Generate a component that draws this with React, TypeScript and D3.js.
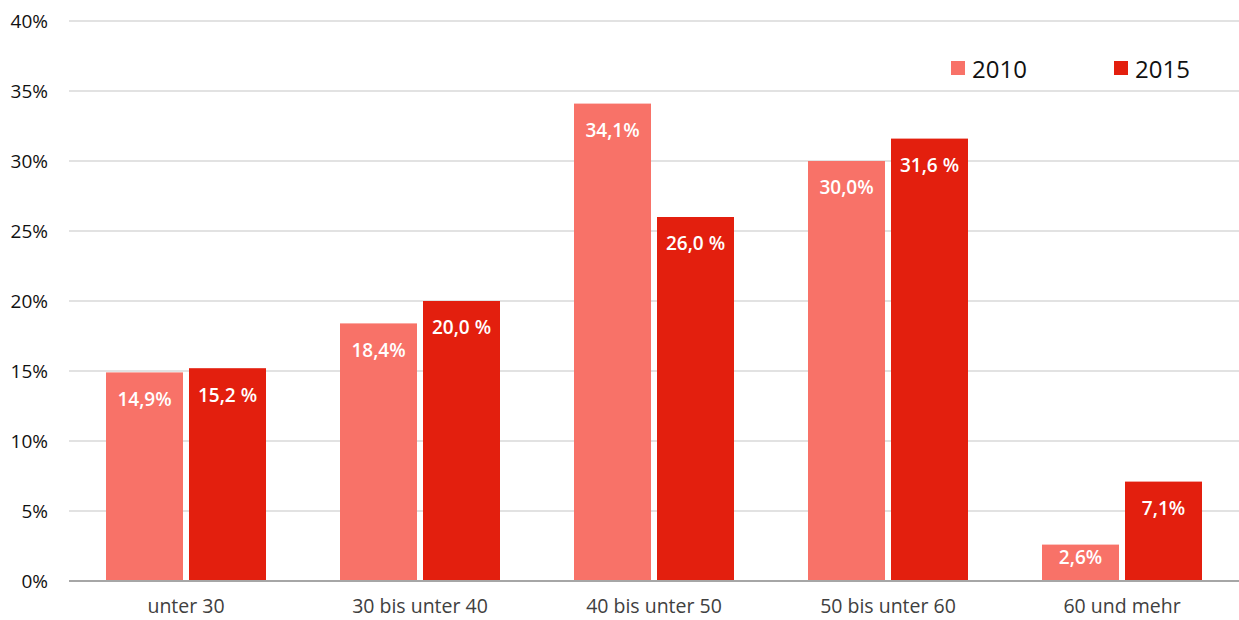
import React from "react";
import * as d3 from "d3";

const categories = ["unter 30", "30 bis unter 40", "40 bis unter 50", "50 bis unter 60", "60 und mehr"];
const seriesNames = ["2010", "2015"];
const values2010 = [14.9, 18.4, 34.1, 30.0, 2.6];
const values2015 = [15.2, 20.0, 26.0, 31.6, 7.1];
const labels2010 = ["14,9%", "18,4%", "34,1%", "30,0%", "2,6%"];
const labels2015 = ["15,2 %", "20,0 %", "26,0 %", "31,6 %", "7,1%"];
const yTicks = [0, 5, 10, 15, 20, 25, 30, 35, 40];
const colors = ["#F87268", "#E31F0E"];

const W = 1239, H = 620;
const margin = { left: 69, right: 0, top: 21, bottom: 39 };
const FONT = "'Open Sans', 'Noto Sans', sans-serif";

export default function App() {
  const x0 = d3.scaleBand().domain(categories).range([margin.left, W - margin.right]).paddingInner(0).paddingOuter(0);
  const bw = 77;
  const gap = 6;
  const y = d3.scaleLinear().domain([0, 40]).range([H - margin.bottom, margin.top]);
  const series = [values2010, values2015];
  const labels = [labels2010, labels2015];

  return (
    <svg width={W} height={H} style={{ position: "absolute", left: 0, top: 0, background: "#fff" }}>
      {yTicks.map((t) => (
        <g key={t}>
          {t !== 0 && (
            <line x1={margin.left} x2={W - margin.right} y1={y(t)} y2={y(t)} stroke="#d9d9d9" strokeWidth={1.3} />
          )}
          <text x={48} y={y(t)} dy="0.35em" textAnchor="end" fontFamily={FONT} fontSize={19} fill="#111">
            {t}%
          </text>
        </g>
      ))}
      {categories.map((c, i) => {
        const cx = x0(c)! + x0.bandwidth() / 2;
        return (
          <g key={c}>
            {series.map((vals, s) => {
              const bx = cx - gap / 2 - bw + s * (bw + gap);
              const top = y(vals[i]);
              const h = y(0) - top;
              const ly = top + Math.min(26.5, h / 3);
              return (
                <g key={s}>
                  <rect x={bx} y={top} width={bw} height={h} fill={colors[s]} />
                  <text
                    x={bx + bw / 2}
                    y={ly}
                    dy="0.36em"
                    textAnchor="middle"
                    fontFamily={FONT}
                    fontWeight={600}
                    fontSize={19}
                    fill="#fff"
                  >
                    {labels[s][i]}
                  </text>
                </g>
              );
            })}
            <text x={cx} y={613} textAnchor="middle" fontFamily={FONT} fontSize={19.5} fill="#404040">
              {c}
            </text>
          </g>
        );
      })}
      <line x1={margin.left} x2={W - margin.right} y1={y(0)} y2={y(0)} stroke="#a6a6a6" strokeWidth={2} />
      {seriesNames.map((n, s) => (
        <g key={n}>
          <rect x={951 + s * 163} y={61} width={14} height={14} fill={colors[s]} />
          <text x={972 + s * 163} y={70} dy="0.35em" fontFamily={FONT} fontSize={24} fill="#111">
            {n}
          </text>
        </g>
      ))}
    </svg>
  );
}
